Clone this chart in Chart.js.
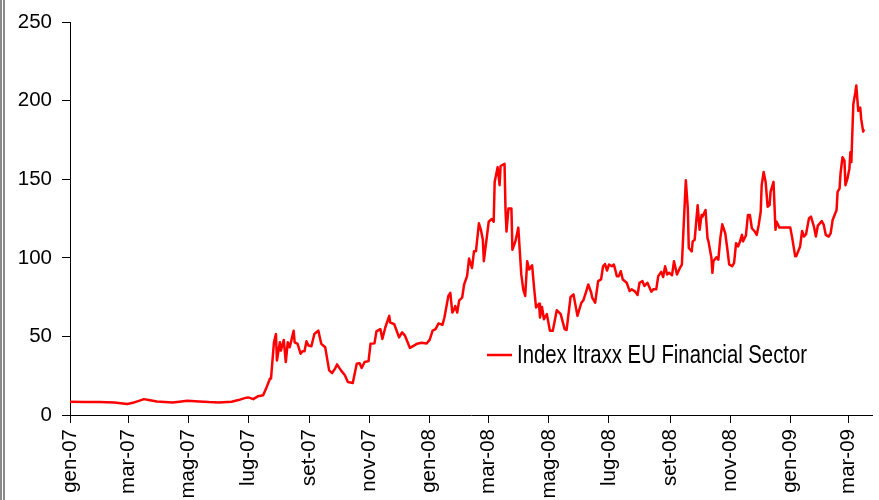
<!DOCTYPE html>
<html><head><meta charset="utf-8">
<script src="https://cdn.jsdelivr.net/npm/chart.js@4.4.1/dist/chart.umd.min.js"></script>
<style>
html,body{margin:0;padding:0;background:#fff;}
#wrap{position:relative;width:879px;height:500px;overflow:hidden;background:#fff;}
#frame{position:absolute;left:0;top:0;width:0;height:500px;border-left:5px double #8a8a8a;}
canvas{position:absolute;left:0;top:0;}
</style></head>
<body><div id="wrap"><canvas id="c" width="879" height="500"></canvas><div id="frame"></div></div>
<script>
// Days since 2007-01-01
const days = [
 0,15,30,45,58,65,70,75,80,88,
 96,104,111,119,131,141,151,164,171,178,
 181,186,191,196,199,203,204,207,209,210,
 213,214,217,219,221,223,227,228,231,234,
 236,238,240,242,245,248,252,255,259,263,
 266,269,271,275,279,282,287,291,294,296,
 299,303,305,309,311,315,317,320,324,325,
 329,334,337,340,345,349,352,357,362,365,
 368,371,374,378,380,384,386,388,390,391,
 393,395,398,400,403,405,408,410,412,415,
 417,419,420,425,428,430,431,434,436,437,
 441,442,443,445,448,449,452,455,458,460,
 462,464,466,469,471,473,476,477,479,481,
 484,487,490,494,498,502,504,508,511,515,
 519,521,524,526,529,530,533,536,539,541,
 543,545,547,550,552,555,557,559,561,565,
 568,570,573,576,578,581,583,586,590,592,
 595,597,600,602,604,606,608,611,613,616,
 619,621,623,625,627,628,631,632,634,637,
 639,641,642,645,647,648,651,652,653,656,
 658,660,662,665,667,669,672,674,676,678,
 680,682,683,686,688,690,692,695,697,699,
 701,702,704,706,708,710,711,714,716,717,
 720,724,729,731,733,736,737,741,743,745,
 747,750,752,755,757,759,761,763,765,767,
 770,772,774,776,778,779,781,782,784,786,
 787,789,791,792,793,794,795,797,798,800,
 802,803,805,806
];
const itraxxFin = [
 8.4,8.3,8.3,8.0,7.0,8.0,9.0,10.1,9.5,8.6,
 8.3,8.0,8.5,9.0,8.6,8.2,8.0,8.4,9.5,10.9,
 11.2,10.1,12,12.6,16.8,23.2,23.2,46.3,51.6,34.7,
 46.3,41,47.8,33.7,46.3,43.1,53.7,46.3,45.3,39,
 40.6,40.6,46.9,44.2,43.8,51.6,53.7,45.3,43.1,28.4,
 26.7,29.5,32.2,28.4,25.3,21,20.4,32.6,33,29.9,
 33.7,34.3,45.3,45.6,53.2,54.7,48.4,55.7,63.1,58.9,
 57.9,49.4,52.6,50.5,42.7,44.2,45.3,46,45.5,47.8,
 53.7,54.7,58.3,57.4,62.1,75.8,77.8,65.2,67.4,69.4,
 65.2,73,74.7,83.1,88.4,99.6,93.6,104.2,104.2,122,
 117.9,111.6,97.9,123.1,124.8,123.1,148.4,157.8,146.3,158.5,
 159.9,130.5,116.8,131.5,131.5,105.2,110.5,119.3,89.5,80,
 75.8,97.9,92.6,95.3,81,68.4,70.9,62.1,68.8,61,
 64.2,53.7,53.7,66.7,64.2,54.7,54.1,75.1,76.8,63.1,
 71.5,73,78.9,83.1,77.8,74.7,71.5,85.2,86.3,94.7,
 96.1,92,95.8,94.7,95.8,88.4,88.4,91.5,86.3,84.2,
 78.9,80,78.9,76.4,84.2,85.2,82.1,84.2,78.5,80,
 80,88.4,91.1,87.8,94.7,89.5,90.5,89,97.9,89.5,
 93.6,95.8,123.1,149.4,131.5,106.3,104.2,110.5,111.6,133.6,
 117.9,127.3,126.3,130.5,112.6,110.5,99.9,90.5,97.9,100.4,
 98.9,112.6,121.4,115.7,106.3,95.8,94.7,96.8,109.4,107.3,
 110.5,114.7,110.5,114.3,127.3,127.3,118.9,116.8,114.7,121,
 129.4,146.3,154.7,148.4,132.6,133.6,142,148.4,117.9,123.1,
 119.3,119.3,119.3,119.3,112.6,101,101,107.3,117.2,113.6,
 115.1,125.2,126.3,120,113.6,120.6,122,123.5,121,114.7,
 113.6,115.7,124.1,127.3,130.5,142,144.1,153.6,164.1,162,
 146.3,150.4,156.8,167.3,161,179.9,197.8,205.2,209.8,193.6,
 195.7,188.3,180.4,182
];
const tickDays = [0,59,120,181,243,304,365,425,486,547,609,670,731,790];
const tickLabels = ["gen-07","mar-07","mag-07","lug-07","set-07","nov-07","gen-08","mar-08","mag-08","lug-08","set-08","nov-08","gen-09","mar-09"];
const yTicks = [0,50,100,150,200,250];
const seriesName = "Index Itraxx EU Financial Sector";

const points = days.map((d,i)=>({x:d, y:itraxxFin[i]}));
const FONT = '"Liberation Sans", Arial, sans-serif';

// legend drawn inside the plot, condensed like the original narrow face
const insideLegend = {
  id:'insideLegend',
  afterDatasetsDraw(chart){
    const ctx = chart.ctx;
    const ds = chart.data.datasets[0];
    const lx = 487, ly = 355, textWidth = 290;
    ctx.save();
    ctx.strokeStyle = ds.borderColor;
    ctx.lineWidth = 2.5;
    ctx.beginPath(); ctx.moveTo(lx, ly); ctx.lineTo(lx+25, ly); ctx.stroke();
    ctx.fillStyle = '#000';
    ctx.font = '25px ' + FONT;
    ctx.textBaseline = 'middle';
    ctx.textAlign = 'left';
    const w = ctx.measureText(ds.label).width;
    ctx.translate(lx+30, ly+1);
    ctx.scale(textWidth / w, 1);
    ctx.fillText(ds.label, 0, 0);
    ctx.restore();
  }
};

new Chart(document.getElementById('c'), {
  type:'line',
  data:{datasets:[{label:seriesName, data:points, borderColor:'#ff0000', backgroundColor:'#ff0000', borderWidth:2.5, pointRadius:0, tension:0, fill:false, borderJoinStyle:'round'}]},
  options:{
    responsive:false, animation:false, devicePixelRatio:1,
    layout:{padding:{top:19,left:0,right:0,bottom:0}},
    plugins:{legend:{display:false}, tooltip:{enabled:false}},
    scales:{
      x:{type:'linear', min:0, max:814,
        afterBuildTicks:s=>{s.ticks = tickDays.map(v=>({value:v}));},
        afterFit:s=>{s.height = 85;},
        ticks:{autoSkip:false, maxRotation:90, minRotation:90, padding:6, color:'#000',
          font:{family:FONT, size:20.5}, callback:(v,i)=>tickLabels[i]},
        grid:{display:true, drawOnChartArea:false, drawTicks:true, tickLength:8, color:'#000', lineWidth:1},
        border:{display:true, color:'#000', width:1}
      },
      y:{min:0, max:250,
        afterBuildTicks:s=>{s.ticks = yTicks.map(v=>({value:v}));},
        afterFit:s=>{s.width = 70;},
        ticks:{padding:10, color:'#000', font:{family:FONT, size:20.5}},
        grid:{display:true, drawOnChartArea:false, drawTicks:true, tickLength:8, color:'#000', lineWidth:1},
        border:{display:true, color:'#000', width:1}
      }
    }
  },
  plugins:[insideLegend]
});
</script>
</body></html>
